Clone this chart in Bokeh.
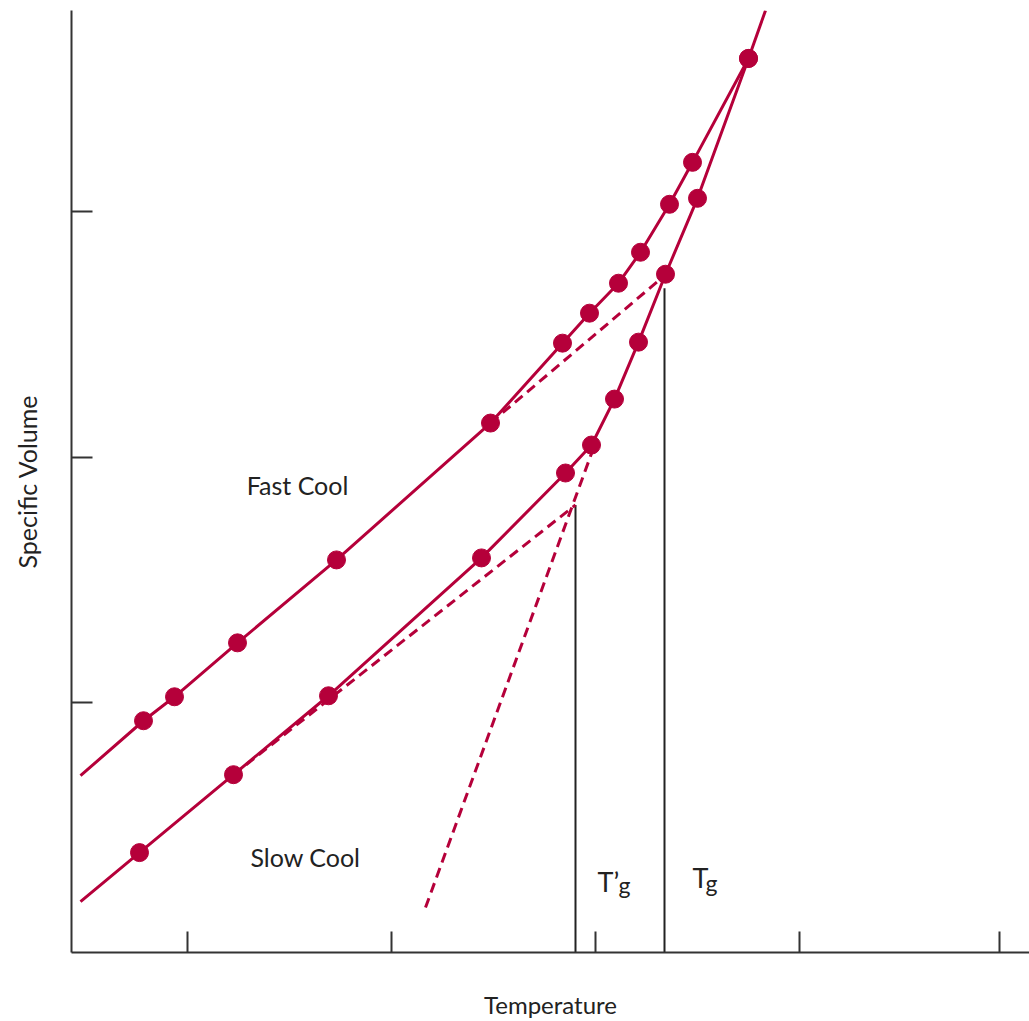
from bokeh.plotting import figure
from bokeh.models import FixedTicker, Range1d, Label
from bokeh.embed import file_html
from bokeh.resources import INLINE

# ---- data (arbitrary units: temperature vs specific volume) ----
fast_T = [72, 103, 166, 265, 419, 491, 518, 547, 569, 598, 621, 677]
fast_V = [232, 256, 310, 393, 530, 610, 640, 670, 701, 749, 791, 895]

slow_T = [68, 162, 257, 410, 494, 520, 543, 567, 594, 626, 677]
slow_V = [100, 178, 257, 395, 480, 508, 554, 611, 679, 755, 895]

# fitted curves (extend past the measured points)
fast_curve_T = [9] + fast_T + [694]
fast_curve_V = [177] + fast_V + [943]
slow_curve_T = [9] + slow_T
slow_curve_V = [51] + slow_V

# extrapolations (dashed)
fast_glass_ext_T = [419, 590]
fast_glass_ext_V = [530, 675]
slow_glass_ext_T = [162, 504]
slow_glass_ext_V = [178, 448]
liquid_ext_T = [354, 522]
liquid_ext_V = [45, 505]

# glass transition temperatures
Tg_prime = 504
Tg_prime_V = 448
Tg = 593
Tg_V = 665

x_ticks = [116, 320, 524, 728, 928]
y_ticks = [250, 496, 742]

RED = "#B5003A"
FONT = "Lato"
TXT = "#222222"

p = figure(width=1029, height=1021, output_backend="svg", toolbar_location=None,
           x_range=Range1d(0, 958), y_range=Range1d(0, 943),
           min_border_left=71, min_border_right=0, min_border_top=10,
           min_border_bottom=68)
p.outline_line_color = None
p.grid.visible = False
p.background_fill_color = "white"
p.border_fill_color = "white"

for ax, ticks in ((p.xaxis[0], x_ticks), (p.yaxis[0], y_ticks)):
    ax.ticker = FixedTicker(ticks=ticks)
    ax.minor_tick_line_color = None
    ax.major_tick_in = 21
    ax.major_tick_out = 0
    ax.major_tick_line_width = 2
    ax.major_tick_line_color = "#333333"
    ax.axis_line_width = 2
    ax.axis_line_color = "#333333"
    ax.major_label_text_font_size = "1px"
    ax.major_label_text_color = None
    ax.major_label_standoff = 0
    ax.axis_label_text_font = FONT
    ax.axis_label_text_font_style = "normal"
    ax.axis_label_text_color = TXT

p.xaxis.axis_label = "Temperature"
p.xaxis.axis_label_text_font_size = "24px"
p.xaxis.axis_label_standoff = 37
p.yaxis.axis_label = "Specific Volume"
p.yaxis.axis_label_text_font_size = "25px"
p.yaxis.axis_label_standoff = 30

# vertical Tg lines
p.line([Tg_prime, Tg_prime], [0, Tg_prime_V], line_color="#222222", line_width=2)
p.line([Tg, Tg], [0, Tg_V], line_color="#222222", line_width=2)

# dashed extrapolations
for xs, ys in ((fast_glass_ext_T, fast_glass_ext_V),
               (slow_glass_ext_T, slow_glass_ext_V),
               (liquid_ext_T, liquid_ext_V)):
    p.line(xs, ys, line_color=RED, line_width=3, line_dash="10 6")

# curves
p.line(fast_curve_T, fast_curve_V, line_color=RED, line_width=3)
p.line(slow_curve_T, slow_curve_V, line_color=RED, line_width=3)

# points
p.scatter(fast_T, fast_V, size=18, fill_color=RED, line_color=RED)
p.scatter(slow_T, slow_V, size=18, fill_color=RED, line_color=RED)

def lab(x, y, text, size="25px", align="left", baseline="alphabetic"):
    p.add_layout(Label(x=x, y=y, text=text, text_font=FONT, text_font_size=size,
                       text_color=TXT, text_align=align, text_baseline=baseline))

lab(226, 468, "Fast Cool", align="center", baseline="middle")
lab(234, 96, "Slow Cool", align="center", baseline="middle")
lab(526, 71, "T\u2019", size="27px")
lab(547, 68, "g", size="23px")
lab(621, 75, "T", size="27px")
lab(634, 70, "g", size="23px")

open("out.html", "w").write(file_html(p, INLINE))
